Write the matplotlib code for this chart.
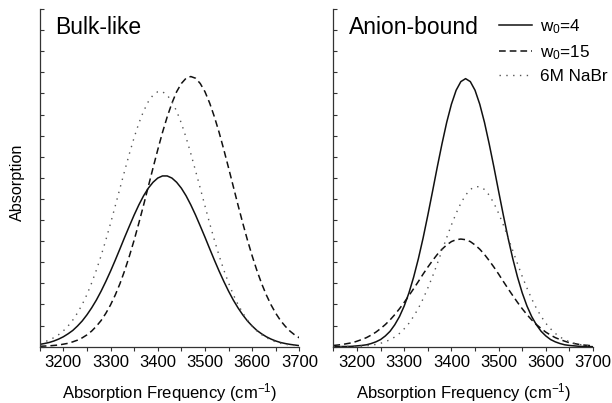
import numpy as np
import matplotlib
matplotlib.use("Agg")
import matplotlib.pyplot as plt
from matplotlib.ticker import MultipleLocator

plt.rcParams['font.family'] = ['Liberation Sans', 'DejaVu Sans']
plt.rcParams['mathtext.fontset'] = 'custom'
plt.rcParams['mathtext.rm'] = 'Liberation Sans'
plt.rcParams['mathtext.it'] = 'Liberation Sans'
plt.rcParams['mathtext.default'] = 'regular'

# frequency grid (cm^-1)
freq = np.arange(3150, 3701, 10)

# bulk-like component
bulk_w4 = [0.11, 0.15, 0.20, 0.27, 0.36, 0.47, 0.61, 0.77, 0.98, 1.22, 1.51, 1.84, 2.21, 2.63,
           3.09, 3.58, 4.10, 4.64, 5.19, 5.72, 6.24, 6.72, 7.15, 7.51, 7.79, 7.99, 8.09,
           8.09, 7.99, 7.79, 7.51, 7.15, 6.72, 6.24, 5.72, 5.19, 4.64, 4.10, 3.58, 3.09, 2.63,
           2.21, 1.84, 1.51, 1.22, 0.98, 0.77, 0.61, 0.47, 0.36, 0.27, 0.20, 0.15, 0.11, 0.08, 0.05]
bulk_w15 = [0.02, 0.03, 0.04, 0.06, 0.08, 0.12, 0.16, 0.23, 0.31, 0.42, 0.56, 0.74, 0.97, 1.24,
            1.58, 1.98, 2.45, 2.99, 3.61, 4.30, 5.05, 5.86, 6.71, 7.59, 8.47, 9.33, 10.15, 10.89,
            11.54, 12.08, 12.47, 12.72, 12.80, 12.72, 12.47, 12.08, 11.54, 10.89, 10.15, 9.33,
            8.47, 7.59, 6.71, 5.86, 5.05, 4.30, 3.61, 2.99, 2.45, 1.98, 1.58, 1.24, 0.97, 0.74,
            0.56, 0.42]
bulk_nabr = [0.16, 0.23, 0.31, 0.43, 0.57, 0.75, 0.98, 1.26, 1.60, 2.00, 2.47, 3.02, 3.63, 4.31,
             5.05, 5.84, 6.67, 7.51, 8.34, 9.15, 9.91, 10.59, 11.16, 11.61, 11.92, 12.08,
             12.08, 11.92, 11.61, 11.16, 10.59, 9.91, 9.15, 8.34, 7.51, 6.67, 5.84, 5.05, 4.31,
             3.63, 3.02, 2.47, 2.00, 1.60, 1.26, 0.98, 0.75, 0.57, 0.43, 0.31, 0.23, 0.16, 0.12,
             0.08, 0.06, 0.04]

# anion-bound component
anion_w4 = [0.00, 0.00, 0.01, 0.01, 0.02, 0.04, 0.06, 0.09, 0.15, 0.23, 0.34, 0.51, 0.73, 1.04,
            1.43, 1.93, 2.55, 3.30, 4.17, 5.15, 6.23, 7.36, 8.51, 9.61, 10.63, 11.49, 12.15,
            12.56, 12.70, 12.56, 12.15, 11.49, 10.63, 9.61, 8.51, 7.36, 6.23, 5.15, 4.17, 3.30,
            2.55, 1.93, 1.43, 1.04, 0.73, 0.51, 0.34, 0.23, 0.15, 0.09, 0.06, 0.04, 0.02, 0.01,
            0.01, 0.00]
anion_w15 = [0.06, 0.08, 0.11, 0.15, 0.19, 0.26, 0.34, 0.43, 0.55, 0.69, 0.86, 1.05, 1.27, 1.52,
             1.80, 2.10, 2.42, 2.75, 3.09, 3.44, 3.77, 4.08, 4.37, 4.62, 4.82, 4.98, 5.07, 5.10,
             5.07, 4.98, 4.82, 4.62, 4.37, 4.08, 3.77, 3.44, 3.09, 2.75, 2.42, 2.10, 1.80, 1.52,
             1.27, 1.05, 0.86, 0.69, 0.55, 0.43, 0.34, 0.26, 0.19, 0.15, 0.11, 0.08, 0.06, 0.04]
anion_nabr = [0.00, 0.00, 0.00, 0.01, 0.01, 0.02, 0.03, 0.05, 0.07, 0.11, 0.16, 0.24, 0.33, 0.46,
              0.63, 0.85, 1.11, 1.44, 1.82, 2.27, 2.78, 3.33, 3.93, 4.55, 5.17, 5.77, 6.32, 6.80,
              7.18, 7.45, 7.58, 7.58, 7.45, 7.18, 6.80, 6.32, 5.77, 5.17, 4.55, 3.93, 3.33, 2.78,
              2.27, 1.82, 1.44, 1.11, 0.85, 0.63, 0.46, 0.33, 0.24, 0.16, 0.11, 0.07, 0.05, 0.03]

labels = ['w$_0$=4', 'w$_0$=15', '6M NaBr']
titles = ['Bulk-like', 'Anion-bound']

styles = [dict(color='#111111', lw=1.1, ls='-'),
          dict(color='#111111', lw=1.1, ls=(0, (4.4, 2.6))),
          dict(color='#555555', lw=1.0, ls=(0, (1, 3.9)))]

fig = plt.figure(figsize=(6.12, 4.03), dpi=100)
ax1 = fig.add_axes([0.0649, 0.1397, 0.4243, 0.838])
ax2 = fig.add_axes([0.5448, 0.1397, 0.4242, 0.838])

for ax, title, series in [(ax1, titles[0], [bulk_w4, bulk_w15, bulk_nabr]),
                          (ax2, titles[1], [anion_w4, anion_w15, anion_nabr])]:
    for ys, lab, st in zip(series, labels, styles):
        ax.plot(freq, ys, label=lab, **st)
    ax.set_xlim(3150, 3700)
    ax.set_ylim(0, 16)
    ax.xaxis.set_major_locator(MultipleLocator(100))
    ax.xaxis.set_minor_locator(MultipleLocator(50))
    ax.yaxis.set_major_locator(MultipleLocator(1))
    ax.tick_params(axis='x', which='both', direction='out', length=3, width=0.8,
                   color='#333333', labelsize=12, pad=3)
    ax.tick_params(axis='y', which='both', direction='in', length=3, width=0.8,
                   color='#333333', labelleft=False)
    for s in ['top', 'right']:
        ax.spines[s].set_visible(False)
    for s in ['left', 'bottom']:
        ax.spines[s].set_color('#333333')
        ax.spines[s].set_linewidth(0.9)
    ax.set_xlabel('Absorption Frequency (cm$^{-1}$)', fontsize=12, labelpad=8)
    ax.text(0.058, 0.926, title, transform=ax.transAxes, fontsize=16.5, va='baseline')

fig.text(17.5 / 612, 1 - 182 / 403, 'Absorption', rotation=90, fontsize=11.6,
         ha='center', va='center')

ax2.legend(loc='upper left', bbox_to_anchor=(499 / 612, 1 - 17 / 403),
           bbox_transform=fig.transFigure, frameon=False, fontsize=12.3,
           handlelength=1.95, handletextpad=0.45, labelspacing=0.42,
           borderaxespad=0, borderpad=0)

fig.savefig('out.png', dpi=100)
